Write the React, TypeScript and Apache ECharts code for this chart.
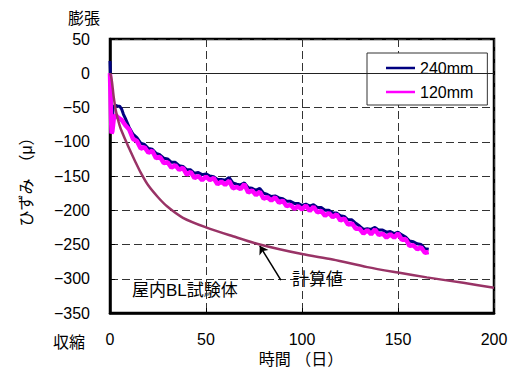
import React, { useEffect, useRef } from "react";
import * as echarts from "echarts";

const measuredDays = [
  0, 0.4, 0.8, 1.2, 1.6, 2, 3, 4, 5, 6, 7, 8,
  10, 12, 14, 16, 18, 20, 22, 24, 26, 28, 30, 32, 34, 36, 38, 40, 42, 44, 46, 48,
  50, 52, 54, 56, 58, 60, 62, 64, 66, 68, 70, 72, 74, 76, 78, 80, 82, 84, 86, 88,
  90, 92, 94, 96, 98, 100, 102, 104, 106, 108, 110, 112, 114, 116, 118, 120, 122, 124, 126, 128,
  130, 132, 134, 136, 138, 140, 142, 144, 146, 148, 150, 152, 154, 156, 158, 160, 162, 164, 166,
];

const strain240 = [
  18, -20, -75, -70, -52, -48, -47, -48, -48, -52, -60, -66,
  -79, -89, -94, -102, -104, -110, -111, -117, -119, -124, -125, -130, -130, -135, -136, -141, -141, -146, -145, -148,
  -147, -150, -151, -155, -155, -156, -152, -160, -162, -163, -160, -167, -168, -171, -168, -175, -177, -180, -179, -182,
  -183, -187, -187, -190, -190, -193, -191, -194, -192, -196, -196, -200, -200, -204, -204, -208, -209, -214, -214, -219,
  -223, -228, -227, -228, -225, -229, -229, -232, -231, -234, -232, -236, -239, -245, -246, -249, -250, -256, -257,
];

const strain120 = [
  0, -50, -88, -85, -75, -65, -61, -64, -66, -68, -72, -76,
  -82, -96, -99, -110, -108, -116, -113, -124, -122, -131, -130, -138, -134, -141, -138, -148, -144, -153, -150, -156,
  -151, -156, -153, -162, -158, -163, -157, -168, -166, -169, -162, -174, -171, -178, -173, -183, -181, -186, -181, -189,
  -186, -194, -192, -198, -194, -199, -193, -201, -195, -203, -201, -208, -204, -210, -206, -215, -212, -221, -219, -227,
  -227, -234, -229, -235, -228, -236, -234, -240, -235, -240, -234, -243, -242, -252, -251, -257, -254, -262, -261,
];

const calcDays = [0, 0.5, 1, 1.5, 2, 3, 4, 5, 6, 8, 10, 13, 16, 20, 25, 30, 38, 50, 64, 78, 100, 116, 134, 150, 165, 184, 200];
const calcValues = [0, -4, -12, -24, -36, -54, -66, -76, -84, -97, -110, -128, -145, -164, -181, -195, -211, -225, -238, -250, -264, -272, -283, -291, -298, -306, -313];

const seriesNames = ["240mm", "120mm", "計算値"];
const xTicks = { min: 0, max: 200, interval: 50 };
const yTicks = { min: -350, max: 50, interval: 50 };
const arrowFrom = [89, -302];
const arrowTo = [78, -252];

const FONT = "'Liberation Sans', 'Noto Sans CJK JP', sans-serif";

function pairs(xs: number[], ys: number[]) {
  return xs.map((x, i) => [x, ys[i]]);
}

export default function App() {
  const ref = useRef<HTMLDivElement>(null);
  useEffect(() => {
    if (!ref.current) return;
    const chart = echarts.init(ref.current, null, { renderer: "svg" });
    const dashed = { type: [8, 4] as any, color: "#333", width: 1 };
    chart.setOption({
      animation: false,
      backgroundColor: "#fff",
      textStyle: { fontFamily: FONT, color: "#000" },
      grid: {
        left: 110,
        right: 18,
        top: 39,
        bottom: 59,
        show: true,
        borderColor: "#000",
        borderWidth: 2.5,
        backgroundColor: "transparent",
      },
      legend: {
        data: [seriesNames[0], seriesNames[1]],
        orient: "vertical",
        left: 367,
        top: 53,
        padding: [7, 14, 5, 19],
        itemGap: 8,
        itemWidth: 29,
        itemHeight: 2.5,
        icon: "rect",
        backgroundColor: "#fff",
        borderColor: "#333",
        borderWidth: 1,
        textStyle: { fontFamily: FONT, fontSize: 16, color: "#000", lineHeight: 16 },
      },
      xAxis: {
        type: "value",
        min: xTicks.min,
        max: xTicks.max,
        interval: xTicks.interval,
        axisLine: { show: true, onZero: false, lineStyle: { color: "#000", width: 2.5 } },
        axisTick: { show: true, inside: true, length: 5, lineStyle: { color: "#000" } },
        axisLabel: { fontSize: 16, color: "#000", margin: 18, fontFamily: FONT },
        splitLine: { show: true, lineStyle: dashed },
      },
      yAxis: {
        type: "value",
        min: yTicks.min,
        max: yTicks.max,
        interval: yTicks.interval,
        axisLine: { show: true, onZero: false, lineStyle: { color: "#000", width: 2.5 } },
        axisTick: { show: true, inside: true, length: 5, lineStyle: { color: "#000" } },
        axisLabel: {
          fontSize: 16,
          color: "#000",
          margin: 20,
          fontFamily: FONT,
          formatter: (v: number) => String(v).replace("-", "\u2212"),
        },
        splitLine: { show: true, lineStyle: dashed },
      },
      series: [
        {
          name: seriesNames[0],
          type: "line",
          data: pairs(measuredDays, strain240),
          symbol: "none",
          lineStyle: { color: "#000080", width: 3 },
          itemStyle: { color: "#000080" },
          z: 3,
        },
        {
          name: seriesNames[1],
          type: "line",
          data: pairs(measuredDays, strain120),
          symbol: "none",
          lineStyle: { color: "#FF00FF", width: 4.5 },
          itemStyle: { color: "#FF00FF" },
          z: 4,
        },
        {
          name: seriesNames[2],
          type: "line",
          data: pairs(calcDays, calcValues),
          symbol: "none",
          smooth: 0.3,
          lineStyle: { color: "#993366", width: 2.5 },
          itemStyle: { color: "#993366" },
          z: 5,
          markLine: {
            silent: true,
            animation: false,
            label: { show: false },
            data: [
              [
                { yAxis: 0, x: 110, symbol: "none", lineStyle: { type: "solid", color: "#222", width: 1 } },
                { yAxis: 0, x: 494, symbol: "none" },
              ],
              [
                { coord: arrowFrom, symbol: "none", lineStyle: { type: "solid", color: "#000", width: 1.5 } },
                { coord: arrowTo, symbol: "arrow", symbolSize: 8 },
              ],
            ],
          },
        },
      ],
      graphic: [
        { type: "text", x: 84, y: 18, style: { text: "膨張", font: `16px ${FONT}`, fill: "#000", align: "center", verticalAlign: "middle" } },
        { type: "text", x: 69, y: 342, style: { text: "収縮", font: `16px ${FONT}`, fill: "#000", align: "center", verticalAlign: "middle" } },
        { type: "text", x: 26, y: 178, rotation: Math.PI / 2, style: { text: "ひずみ　（μ）", font: `16px ${FONT}`, fill: "#000", align: "center", verticalAlign: "middle" } },
        { type: "text", x: 301, y: 359, style: { text: "時間 （日）", font: `16px ${FONT}`, fill: "#000", align: "center", verticalAlign: "middle" } },
        { type: "text", x: 132, y: 290, style: { text: "屋内BL試験体", font: `17px ${FONT}`, fill: "#000", align: "left", verticalAlign: "middle" } },
        { type: "text", x: 292, y: 279, style: { text: "計算値", font: `17px ${FONT}`, fill: "#000", align: "left", verticalAlign: "middle" } },
      ],
    });
    return () => chart.dispose();
  }, []);
  return <div ref={ref} style={{ position: "fixed", left: 0, top: 0, width: 512, height: 372 }} />;
}
